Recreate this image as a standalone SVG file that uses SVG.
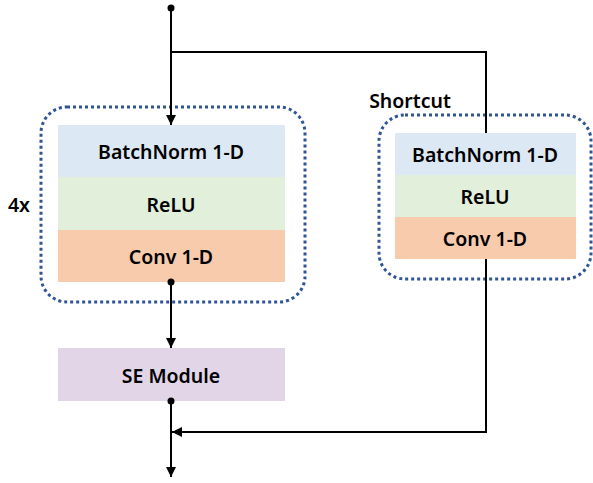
<svg xmlns="http://www.w3.org/2000/svg" width="593" height="483" viewBox="0 0 593 483">
<style>
.t{font-family:"Noto Sans","Liberation Sans",sans-serif;font-weight:600;font-size:19.5px;fill:#000;text-anchor:middle}
.l{stroke:#000;stroke-width:2;fill:none}
.grp{fill:none;stroke:#2f5597;stroke-width:3;stroke-dasharray:3 3}
.bn{fill:#dde8f5}.re{fill:#e2efda}.cv{fill:#f8cbad}.se{fill:#e1d5e7}
</style>
<defs>
<marker id="ah" viewBox="0 0 10 10" refX="10" refY="5" markerWidth="5" markerHeight="5" orient="auto"><path d="M0,0L10,5L0,10z" fill="#000"/></marker>
</defs>
<g id="group-main"><rect class="grp" x="41" y="107" width="264" height="195" rx="26"/><text class="t" x="19" y="212">4x</text></g>
<g id="group-shortcut"><rect class="grp" x="379" y="115" width="212" height="164" rx="26"/><text class="t" x="410" y="108">Shortcut</text></g>
<g id="bn1"><rect class="bn" x="58" y="125" width="227" height="52"/><text class="t" x="171" y="159">BatchNorm 1-D</text></g>
<g id="relu1"><rect class="re" x="58" y="177" width="227" height="53"/><text class="t" x="171" y="212">ReLU</text></g>
<g id="conv1"><rect class="cv" x="58" y="230" width="227" height="52"/><text class="t" x="171" y="264">Conv 1-D</text></g>
<g id="bn2"><rect class="bn" x="395" y="133" width="181" height="42"/><text class="t" x="485" y="162">BatchNorm 1-D</text></g>
<g id="relu2"><rect class="re" x="395" y="175" width="181" height="42"/><text class="t" x="485" y="204">ReLU</text></g>
<g id="conv2"><rect class="cv" x="395" y="217" width="181" height="42"/><text class="t" x="485" y="246">Conv 1-D</text></g>
<g id="se"><rect class="se" x="58" y="348" width="227" height="53"/><text class="t" x="171" y="383">SE Module</text></g>
<g id="connectors">
<circle cx="171" cy="8" r="3.5"/>
<path class="l" d="M171,8V125" marker-end="url(#ah)"/>
<path class="l" d="M171,52H486V133"/>
<circle cx="171" cy="282" r="3.5"/>
<path class="l" d="M171,282V348" marker-end="url(#ah)"/>
<circle cx="171" cy="401" r="3.5"/>
<path class="l" d="M171,401V477" marker-end="url(#ah)"/>
<path class="l" d="M486,259V432H172" marker-end="url(#ah)"/>
</g>
</svg>
